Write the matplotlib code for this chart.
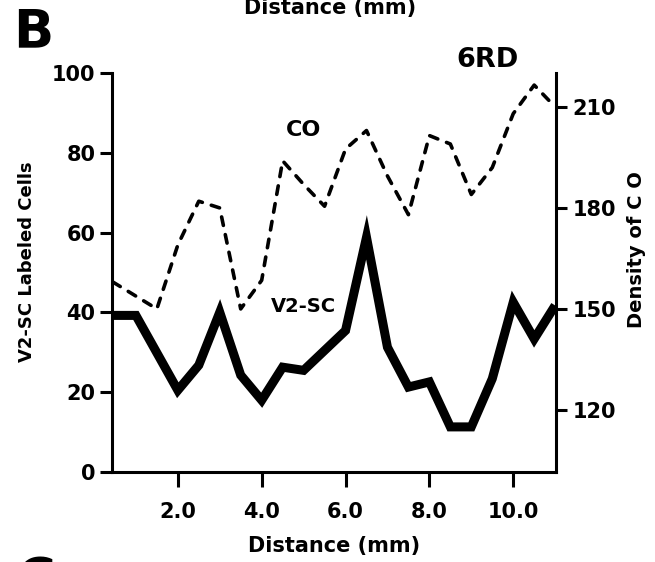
import matplotlib
matplotlib.use("Agg")
import matplotlib.pyplot as plt

# ---- data ----
v2sc_x = [0.45, 1.0, 2.0, 2.5, 3.0, 3.5, 4.0, 4.5, 5.0, 5.5, 6.0, 6.5, 7.0, 7.5, 8.0, 8.5, 9.0, 9.5, 10.0, 10.5, 11.0]
v2sc_cells = [39.2, 39.2, 20.4, 26.7, 40.0, 24.2, 17.9, 26.2, 25.4, 30.4, 35.4, 58.8, 31.2, 21.2, 22.5, 11.2, 11.2, 23.3, 42.5, 33.3, 41.7]

co_x = [0.45, 1.5, 2.0, 2.5, 3.0, 3.5, 4.0, 4.5, 5.0, 5.5, 6.0, 6.5, 7.0, 7.5, 8.0, 8.5, 9.0, 9.5, 10.0, 10.5, 11.0]
co_density = [158, 150, 169, 182, 180, 150, 158.5, 194, 187, 180.5, 197.5, 203, 189.5, 178, 201.5, 199, 184, 192, 208, 216.5, 210]

x_ticks = [2.0, 4.0, 6.0, 8.0, 10.0]
x_tick_labels = ["2.0", "4.0", "6.0", "8.0", "10.0"]
left_ticks = [0, 20, 40, 60, 80, 100]
right_ticks = [120, 150, 180, 210]

plt.rcParams['font.family'] = ['DejaVu Sans']
plt.rcParams['font.weight'] = 'bold'

W, H = 655, 562
fig = plt.figure(figsize=(W / 100, H / 100), dpi=100)
L, R, B, T = 112, 556, 471.5, 73.3
ax = fig.add_axes([L / W, 1 - B / H, (R - L) / W, (B - T) / H])
ax2 = ax.twinx()

ax.plot(v2sc_x, v2sc_cells, color='black', lw=6.5, solid_joinstyle='miter',
        solid_capstyle='butt', zorder=3)
ax2.plot(co_x, co_density, color='black', lw=2.6, dashes=(2.4, 2.6),
         dash_capstyle='round', dash_joinstyle='round')

ax.set_xlim(0.43, 11.02)
ax.set_ylim(0, 100)
ax2.set_ylim(101.7, 220)

for a in (ax, ax2):
    a.spines['top'].set_visible(False)
    for s in a.spines.values():
        s.set_linewidth(2.2)
ax.spines['right'].set_visible(False)
ax2.spines['left'].set_visible(False)
ax2.spines['bottom'].set_visible(False)

ax.set_xticks(x_ticks)
ax.set_xticklabels(x_tick_labels)
ax.set_yticks(left_ticks)
ax2.set_yticks(right_ticks)

ax.tick_params(axis='x', direction='out', length=11, width=2.2, pad=11, labelsize=15)
ax.tick_params(axis='y', direction='out', length=8.5, width=2.2, pad=3.5, labelsize=15)
ax2.tick_params(axis='y', direction='out', length=8, width=2.2, pad=4, labelsize=15)

ax.set_xlabel("Distance (mm)", fontsize=15, fontweight='bold', labelpad=10)

fig.text(27 / W, 1 - 262 / H, "V2-SC Labeled Cells", fontsize=13, fontweight='bold',
         rotation=90, ha='center', va='center')
fig.text(637 / W, 1 - 250 / H, "Density of C O", fontsize=14, fontweight='bold',
         rotation=90, ha='center', va='center')

fig.text(304 / W, 1 - 130 / H, "CO", fontsize=16, fontweight='bold', ha='center', va='center')
fig.text(303 / W, 1 - 306 / H, "V2-SC", fontsize=14, fontweight='bold', ha='center', va='center')

fig.text(487 / W, 1 - 60 / H, "6RD", fontsize=19.5, fontweight='bold', ha='center', va='center')
fig.text(13 / W, 1 - 47 / H, "B", fontsize=38, fontweight='bold', ha='left', va='baseline')
fig.text(330 / W, 1 - 14 / H, "Distance (mm)", fontsize=15, fontweight='bold',
         ha='center', va='baseline')
fig.text(16 / W, 1 - 596 / H, "C", fontsize=38, fontweight='bold', ha='left', va='baseline')

fig.savefig("out.png", dpi=100)
